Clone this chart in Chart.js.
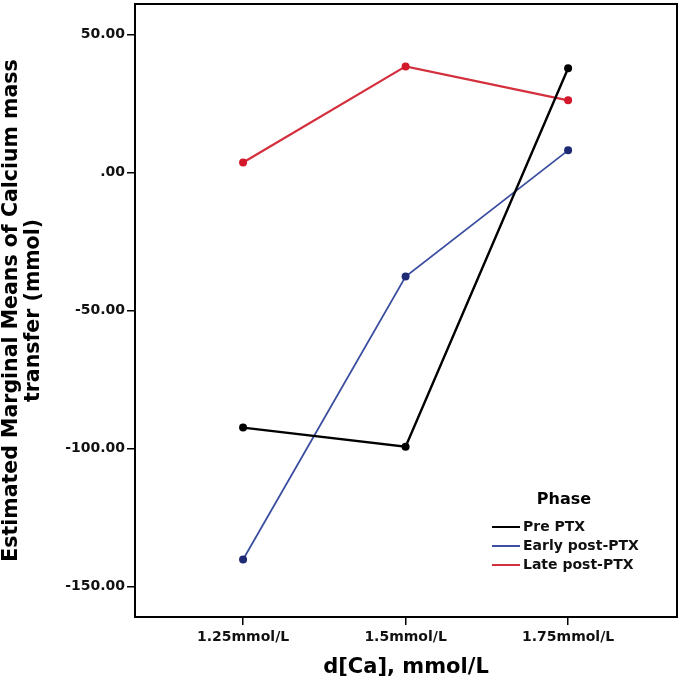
<!doctype html>
<html lang="en">
<head>
<meta charset="utf-8">
<title>Estimated Marginal Means of Calcium mass transfer</title>
<style>
  * { margin: 0; padding: 0; }
  body { background: #fff; }
  canvas { display: block; }
</style>
</head>
<body>
<canvas id="myChart" width="681" height="684"></canvas>
<script src="https://cdn.jsdelivr.net/npm/chart.js/dist/chart.umd.min.js"></script>
<script>
// data
const categories = ['1.25mmol/L', '1.5mmol/L', '1.75mmol/L'];
const prePTX = [-92.4, -99.3, 37.7];
const earlyPostPTX = [-140.2, -37.7, 8.0];
const latePostPTX = [3.6, 38.4, 26.1];
const yTicks = [-150, -100, -50, 0, 50];
const seriesNames = ['Pre PTX', 'Early post-PTX', 'Late post-PTX'];

const FONT = "'DejaVu Sans', sans-serif";

function toPoints(values) {
  return values.map((v, i) => ({ x: i, y: v }));
}

function fmtTick(v) {
  if (v === 0) return '.00';
  return v.toFixed(2);
}

// frame, axis titles and the "Phase" legend
const decorations = {
  id: 'decorations',
  afterDraw(chart) {
    const { ctx, chartArea: { left, top, right, bottom } } = chart;
    ctx.save();
    ctx.strokeStyle = '#000';
    ctx.lineWidth = 2;
    ctx.strokeRect(left, top, right - left, bottom - top);

    ctx.fillStyle = '#000';
    ctx.textAlign = 'center';
    ctx.textBaseline = 'middle';

    // x title
    ctx.font = 'bold 21px ' + FONT;
    ctx.fillText('d[Ca], mmol/L', (left + right) / 2, 668);

    // y title, two lines
    ctx.save();
    ctx.translate(0, (top + bottom) / 2);
    ctx.rotate(-Math.PI / 2);
    ctx.font = 'bold 20.5px ' + FONT;
    ctx.fillText('Estimated Marginal Means of Calcium mass', 0, 12);
    ctx.fillText('transfer (mmol)', 0, 34);
    ctx.restore();

    // legend
    ctx.font = 'bold 16px ' + FONT;
    ctx.fillText('Phase', 564, 500);
    ctx.font = 'bold 14px ' + FONT;
    ctx.textAlign = 'left';
    chart.data.datasets.forEach((ds, i) => {
      const y = 527 + i * 19;
      ctx.strokeStyle = ds.borderColor;
      ctx.lineWidth = 2;
      ctx.beginPath();
      ctx.moveTo(492, y);
      ctx.lineTo(520, y);
      ctx.stroke();
      ctx.fillStyle = '#111';
      ctx.fillText(ds.label, 523, y);
    });
    ctx.restore();
  }
};

const data = {
  datasets: [
    {
      label: seriesNames[0],
      data: toPoints(prePTX),
      borderColor: '#000000',
      backgroundColor: '#000000',
      borderWidth: 2.4,
      pointRadius: 4,
      pointBorderWidth: 0
    },
    {
      label: seriesNames[1],
      data: toPoints(earlyPostPTX),
      borderColor: '#3b4ea0',
      backgroundColor: '#1e2a74',
      borderWidth: 1.8,
      pointRadius: 4,
      pointBorderWidth: 0
    },
    {
      label: seriesNames[2],
      data: toPoints(latePostPTX),
      borderColor: '#d42f3c',
      backgroundColor: '#d3182b',
      borderWidth: 2.2,
      pointRadius: 4,
      pointBorderWidth: 0
    }
  ]
};

const config = {
  type: 'line',
  data,
  options: {
    responsive: false,
    animation: false,
    layout: { padding: { top: 3, right: 4, left: 0, bottom: 0 } },
    plugins: {
      legend: { display: false },
      tooltip: { enabled: false }
    },
    scales: {
      x: {
        type: 'linear',
        min: -0.665,
        max: 2.67,
        afterBuildTicks(scale) {
          scale.ticks = categories.map((c, i) => ({ value: i }));
        },
        afterFit(scale) {
          scale.height = 67;
          scale.paddingLeft = 0;
          scale.paddingRight = 0;
        },
        border: { display: false },
        grid: {
          drawOnChartArea: false,
          drawTicks: true,
          tickLength: 8,
          color: '#000',
          lineWidth: 1.5
        },
        ticks: {
          padding: 4,
          color: '#111',
          font: { family: FONT, size: 14, weight: 'bold' },
          callback: (v) => categories[v]
        }
      },
      y: {
        min: -161,
        max: 61,
        afterBuildTicks(scale) {
          scale.ticks = yTicks.map(v => ({ value: v }));
        },
        afterFit(scale) {
          scale.width = 135;
          scale.paddingTop = 0;
          scale.paddingBottom = 0;
        },
        border: { display: false },
        grid: {
          drawOnChartArea: false,
          drawTicks: true,
          tickLength: 8,
          color: '#000',
          lineWidth: 1.5
        },
        ticks: {
          padding: 2,
          color: '#111',
          font: { family: FONT, size: 14, weight: 'bold' },
          callback: fmtTick
        }
      }
    }
  },
  plugins: [decorations]
};

const myChart = new Chart(document.getElementById('myChart'), config);
</script>
</body>
</html>
